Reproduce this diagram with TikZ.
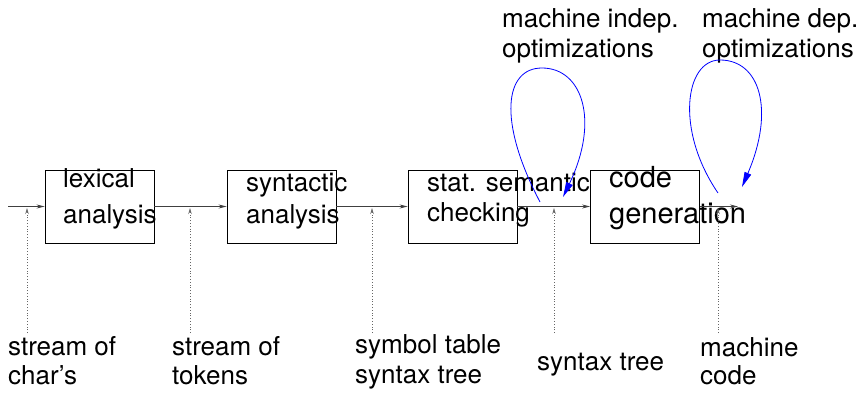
\documentclass[tikz,border=0pt]{standalone}
\usepackage{fontspec}
\setmainfont{TeX Gyre Heros}
\usetikzlibrary{arrows.meta}
\tikzset{
  box/.style={draw=black, line width=0.9pt, minimum width=109pt, minimum height=73pt, inner sep=0pt},
  lbl/.style={anchor=base west, inner sep=0pt, font=\fontsize{26}{30}\selectfont},
  biglbl/.style={anchor=base west, inner sep=0pt, font=\fontsize{29}{33}\selectfont},
  flow/.style={draw=black!75, line width=0.8pt, -{Stealth[length=8pt,width=4pt]}},
  feed/.style={draw=black!60, line width=0.8pt, dotted, -{Stealth[length=6pt,width=3.5pt]}},
  loop/.style={draw=blue, line width=0.8pt, -{Triangle[length=15pt,width=7pt]}}
}
\begin{document}
\begin{tikzpicture}[x=1pt,y=-1pt]
\useasboundingbox (0,0) rectangle (860,392);
% boxes
\node[box] (b1) at (99.5,206.5) {};
\node[box] (b2) at (281.5,206.5) {};
\node[box] (b3) at (462.5,206.5) {};
\node[box] (b4) at (645,206.5) {};
% box texts
\node[lbl] (t1a) at (63,187) {lexical};
\node[lbl] (t1b) at (63,223) {analysis};
\node[lbl] (t2a) at (246,191) {syntactic};
\node[lbl] (t2b) at (246,223) {analysis};
\node[lbl] (t3a) at (427,191) {stat. semantic};
\node[lbl] (t3b) at (427,221) {checking};
\node[biglbl] (t4a) at (609,187) {code};
\node[biglbl] (t4b) at (609,223) {generation};
% main flow
\coordinate (in) at (8,206.5);
\coordinate (out) at (738,206.5);
\draw[flow] (in) -- (b1.west);
\draw[flow] (b1.east) -- (b2.west);
\draw[flow] (b2.east) -- (b3.west);
\draw[flow] (b3.east) -- (b4.west);
\draw[flow] (b4.east) -- (out);
% dotted feeds
\foreach \n/\x in {d1/27, d2/190, d3/372, d4/554, d5/718}{
  \coordinate (\n bot) at (\x,333);
  \coordinate (\n top) at (\x,208);
  \draw[feed] (\n bot) -- (\n top);
}
% bottom labels
\node[lbl] (l1a) at (8,355) {stream of};
\node[lbl] (l1b) at (8,384) {char’s};
\node[lbl] (l2a) at (172,355) {stream of};
\node[lbl] (l2b) at (172,384) {tokens};
\node[lbl] (l3a) at (355,353) {symbol table};
\node[lbl] (l3b) at (355,383) {syntax tree};
\node[lbl] (l4) at (537,370) {syntax tree};
\node[lbl] (l5a) at (700,356) {machine};
\node[lbl] (l5b) at (700,384) {code};
% top labels
\node[lbl] (o1a) at (502,27) {machine indep.};
\node[lbl] (o1b) at (502,57) {optimizations};
\node[lbl] (o2a) at (702,27) {machine dep.};
\node[lbl] (o2b) at (702,57) {optimizations};
% loops
\coordinate (s1) at (540,202);
\coordinate (p1) at (542,68);
\coordinate (e1) at (563,197);
\draw[loop] (s1) .. controls (497,120) and (505,68) .. (p1) .. controls (582,68) and (600,120) .. (e1);
\coordinate (s2) at (718,193);
\coordinate (p2) at (720,60);
\coordinate (e2) at (742,187);
\draw[loop] (s2) .. controls (675,130) and (685,60) .. (p2) .. controls (760,60) and (775,110) .. (e2);
\end{tikzpicture}
\end{document}
